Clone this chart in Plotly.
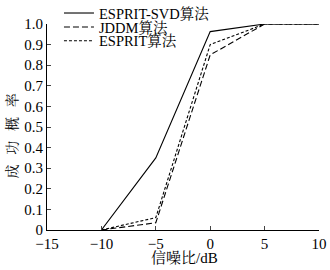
import plotly.graph_objects as go

snr = [-10, -5, 0, 5, 10]
svd = [0.0, 0.35, 0.963, 1.0, 1.0]
jddm = [0.0, 0.035, 0.85, 1.0, 1.0]
esprit = [0.0, 0.06, 0.90, 1.0, 1.0]
names = ["ESPRIT-SVD算法", "JDDM算法", "ESPRIT算法"]
xticks = [-15, -10, -5, 0, 5, 10]
yticks = [0, 0.1, 0.2, 0.3, 0.4, 0.5, 0.6, 0.7, 0.8, 0.9, 1.0]
ytext = ["0", "0.1", "0.2", "0.3", "0.4", "0.5", "0.6", "0.7", "0.8", "0.9", "1.0"]
xtitle = "信噪比/dB"
ytitle = "成功概率"

font = "Liberation Serif, Times New Roman, Noto Serif CJK SC, Noto Sans CJK SC, serif"

fig = go.Figure()
fig.add_trace(go.Scatter(x=snr, y=svd, name=names[0], mode="lines", legend="legend",
                         line=dict(color="black", width=1.1), cliponaxis=False))
fig.add_trace(go.Scatter(x=snr, y=jddm, name=names[1], mode="lines", legend="legend2",
                         line=dict(color="black", width=1.1, dash="6px,3px"), cliponaxis=False))
fig.add_trace(go.Scatter(x=snr, y=esprit, name=names[2], mode="lines", legend="legend3",
                         line=dict(color="black", width=1.1, dash="3px,2px"), cliponaxis=False))

leg = dict(x=0.044, xanchor="left", yanchor="middle", bgcolor="rgba(0,0,0,0)",
           font=dict(size=14.5, family=font), itemwidth=30)

fig.update_layout(
    width=330, height=270,
    margin=dict(l=47, r=11, t=24, b=40, autoexpand=False),
    paper_bgcolor="white", plot_bgcolor="white",
    font=dict(family=font, size=15, color="black"),
    showlegend=True,
    legend=dict(leg, y=1.053),
    legend2=dict(leg, y=0.985),
    legend3=dict(leg, y=0.918),
    xaxis=dict(range=[-15, 10], tickvals=xticks, ticks="inside", ticklen=4,
               showline=True, linecolor="black", linewidth=1, showgrid=False,
               zeroline=False, tickfont=dict(size=15), automargin=False),
    yaxis=dict(range=[0, 1.0], tickvals=yticks, ticktext=ytext, ticks="inside", ticklen=4,
               showline=True, linecolor="black", linewidth=1, showgrid=False,
               zeroline=False, tickfont=dict(size=15), automargin=False),
    annotations=[
        dict(text=xtitle, xref="paper", yref="paper", x=0.505, y=-0.135,
             xanchor="center", yanchor="middle", showarrow=False,
             font=dict(size=15, family=font)),
        dict(text="\u2002\u2009".join(ytitle), xref="paper", yref="paper", x=-0.129, y=0.458,
             xanchor="center", yanchor="middle", showarrow=False, textangle=-90,
             font=dict(size=14, family=font)),
    ],
)
fig.write_html("out.html", config={"displayModeBar": False},
               post_script="document.body.style.margin='0';")
